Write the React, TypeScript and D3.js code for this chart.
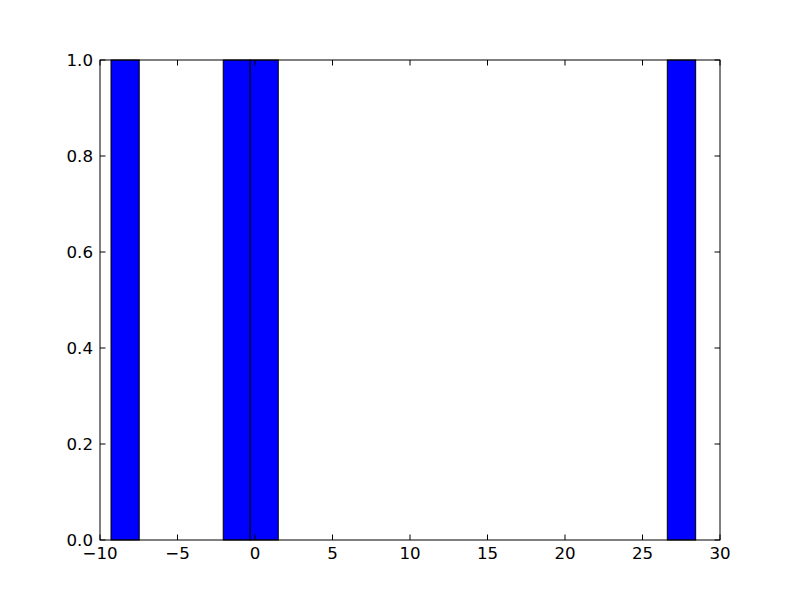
import React from "react";
import * as d3 from "d3";

const barStart = [-9.29, -2.05, -0.31, 26.6];
const barEnd = [-7.47, -0.31, 1.5, 28.43];
const counts = [1, 1, 1, 1];
const xTicks = [-10, -5, 0, 5, 10, 15, 20, 25, 30];
const yTicks = [0, 0.2, 0.4, 0.6, 0.8, 1.0];

const W = 800, H = 600;
const L = 100, R = 720, T = 60, B = 540;

export default function App() {
  const x = d3.scaleLinear().domain([-10, 30]).range([L, R]);
  const y = d3.scaleLinear().domain([0, 1]).range([B, T]);
  const fmtX = (v: number) => (v < 0 ? "\u2212" + Math.abs(v) : String(v));
  const fmtY = d3.format(".1f");
  const font = "DejaVu Sans";
  const fs = 16.67;
  return (
    <svg width={W} height={H} style={{ position: "absolute", left: 0, top: 0, background: "#fff" }}>
      <rect x={0} y={0} width={W} height={H} fill="#fff" />
      {counts.map((c, i) => (
        <rect
          key={i}
          x={x(barStart[i])}
          y={y(c)}
          width={x(barEnd[i]) - x(barStart[i])}
          height={y(0) - y(c)}
          fill="#0000ff"
          stroke="#000"
          strokeWidth={1}
        />
      ))}
      {xTicks.map((t) => (
        <g key={"x" + t}>
          <line x1={x(t)} x2={x(t)} y1={B} y2={B - 5.5} stroke="#000" />
          <line x1={x(t)} x2={x(t)} y1={T} y2={T + 5.5} stroke="#000" />
          <text x={x(t)} y={B + 19} textAnchor="middle" fontFamily={font} fontSize={fs}>
            {fmtX(t)}
          </text>
        </g>
      ))}
      {yTicks.map((t) => (
        <g key={"y" + t}>
          <line x1={L} x2={L + 5.5} y1={y(t)} y2={y(t)} stroke="#000" />
          <line x1={R} x2={R - 5.5} y1={y(t)} y2={y(t)} stroke="#000" />
          <text x={L - 7} y={y(t) + 6} textAnchor="end" fontFamily={font} fontSize={fs}>
            {fmtY(t)}
          </text>
        </g>
      ))}
      <rect x={L} y={T} width={R - L} height={B - T} fill="none" stroke="#000" strokeWidth={1} />
    </svg>
  );
}
